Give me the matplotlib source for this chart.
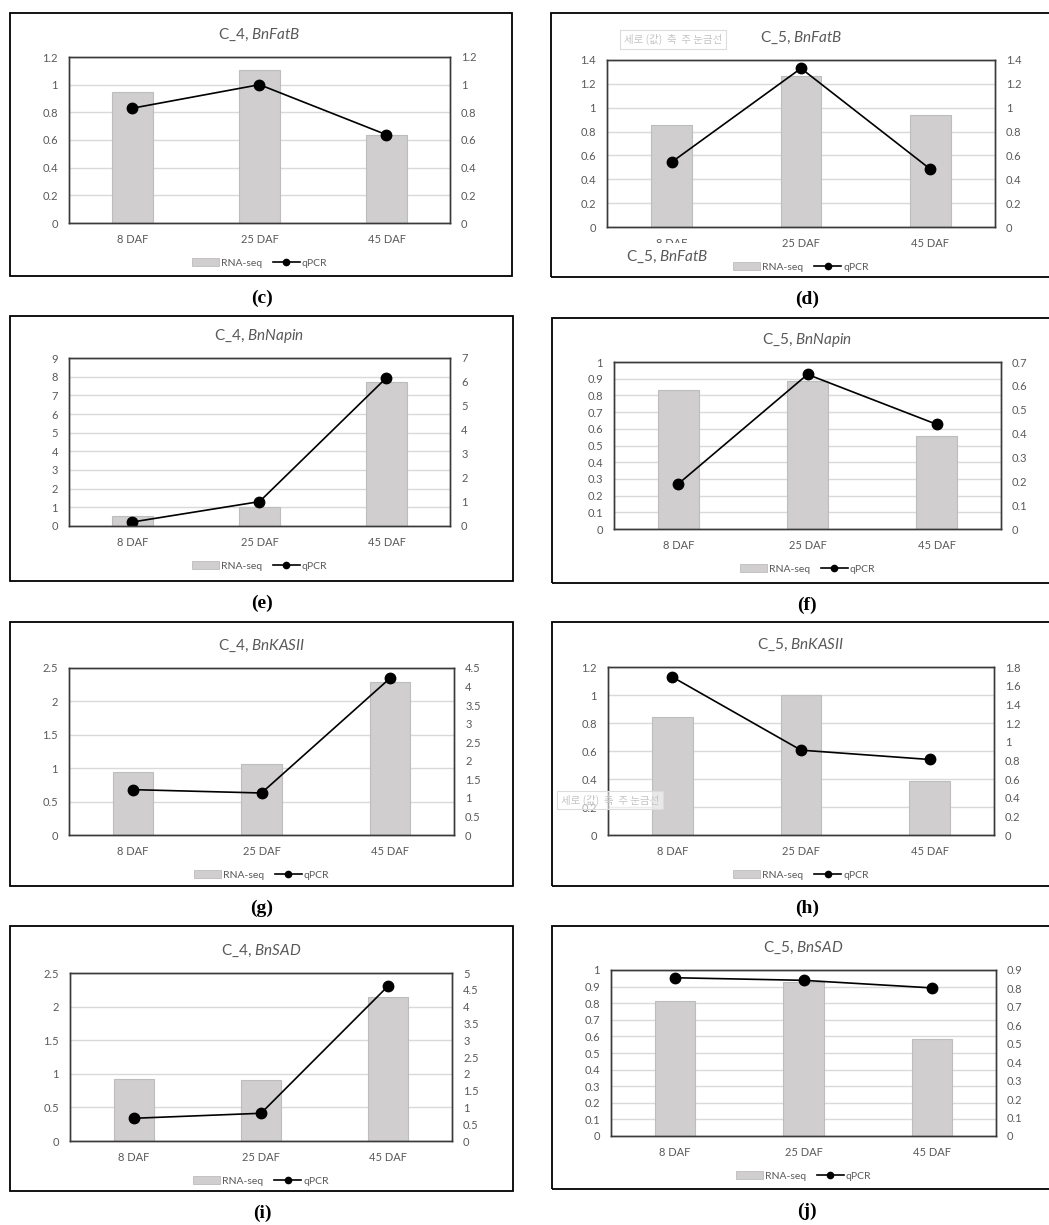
import matplotlib.pyplot as plt
import matplotlib.ticker as mticker
from matplotlib.patches import Rectangle, Patch
from matplotlib.lines import Line2D

plt.rcParams['font.family'] = ['Lato', 'DejaVu Sans']
plt.rcParams['mathtext.fontset'] = 'custom'
plt.rcParams['mathtext.rm'] = 'Lato'
plt.rcParams['mathtext.it'] = 'Lato:italic'

W, H = 1049, 1225

days = ["8 DAF", "25 DAF", "45 DAF"]

# values
rnaseq_c4_fatb = [0.946, 1.104, 0.636]
qpcr_c4_fatb = [0.830, 1.000, 0.638]
rnaseq_c5_fatb = [0.853, 1.266, 0.940]
qpcr_c5_fatb = [0.544, 1.330, 0.485]
rnaseq_c4_napin = [0.555, 1.02, 7.69]
qpcr_c4_napin = [0.167, 1.016, 6.18]
rnaseq_c5_napin = [0.831, 0.886, 0.554]
qpcr_c5_napin = [0.190, 0.648, 0.439]
rnaseq_c4_kasii = [0.943, 1.063, 2.29]
qpcr_c4_kasii = [1.222, 1.132, 4.22]
rnaseq_c5_kasii = [0.845, 1.002, 0.384]
qpcr_c5_kasii = [1.693, 0.909, 0.809]
rnaseq_c4_sad = [0.919, 0.905, 2.137]
qpcr_c4_sad = [0.676, 0.825, 4.62]
rnaseq_c5_sad = [0.812, 0.928, 0.585]
qpcr_c5_sad = [0.858, 0.844, 0.803]

# (clone, gene, rna, qpcr, left max/step, right max/step, box px, plot px, label)
panels = [
    ("C_4", "BnFatB", rnaseq_c4_fatb, qpcr_c4_fatb, (1.2, 0.2), (1.2, 0.2),
     (10, 13, 512, 276), (69, 57, 450, 223), "c"),
    ("C_5", "BnFatB", rnaseq_c5_fatb, qpcr_c5_fatb, (1.4, 0.2), (1.4, 0.2),
     (551, 13, 1052, 277), (607, 60, 995, 227), "d"),
    ("C_4", "BnNapin", rnaseq_c4_napin, qpcr_c4_napin, (9, 1), (7, 1),
     (10, 316, 513, 581), (69, 358, 450, 526), "e"),
    ("C_5", "BnNapin", rnaseq_c5_napin, qpcr_c5_napin, (1, 0.1), (0.7, 0.1),
     (552, 318, 1052, 583), (614, 362, 1001, 529), "f"),
    ("C_4", "BnKASII", rnaseq_c4_kasii, qpcr_c4_kasii, (2.5, 0.5), (4.5, 0.5),
     (10, 622, 513, 886), (69, 668, 454, 835), "g"),
    ("C_5", "BnKASII", rnaseq_c5_kasii, qpcr_c5_kasii, (1.2, 0.2), (1.8, 0.2),
     (552, 622, 1052, 886), (608, 667, 994, 835), "h"),
    ("C_4", "BnSAD", rnaseq_c4_sad, qpcr_c4_sad, (2.5, 0.5), (5, 0.5),
     (10, 926, 513, 1191), (70, 973, 452, 1141), "i"),
    ("C_5", "BnSAD", rnaseq_c5_sad, qpcr_c5_sad, (1, 0.1), (0.9, 0.1),
     (552, 926, 1052, 1189), (611, 970, 996, 1136), "j"),
]

BAR = '#d0cece'
BAR_EDGE = '#bdbdbd'
TXT = '#595959'


def fx(x):
    return x / W


def fy(y):
    return 1 - y / H


fig = plt.figure(figsize=(W / 100, H / 100), dpi=100)

fmt = mticker.FuncFormatter(lambda v, p: f"{round(v, 4):g}")

for clone, gene, rna, qpcr, lft, rgt, box, plot, lab in panels:
    bx0, by0, bx1, by1 = box
    fig.patches.append(Rectangle((fx(bx0), fy(by1)), fx(bx1 - bx0), (by1 - by0) / H,
                                 transform=fig.transFigure, fill=False,
                                 ec='black', lw=1.3, zorder=0))
    px0, py0, px1, py1 = plot
    ax = fig.add_axes([fx(px0), fy(py1), fx(px1 - px0), (py1 - py0) / H])
    x = range(len(days))
    ax.bar(x, rna, width=0.315, color=BAR, edgecolor=BAR_EDGE, lw=0.8, label="RNA-seq")
    ax.set_xlim(-0.5, 2.5)
    ax.set_ylim(0, lft[0])
    ax.set_yticks([i * lft[1] for i in range(int(round(lft[0] / lft[1])) + 1)])
    ax.yaxis.set_major_formatter(fmt)
    ax.set_xticks(list(x))
    ax.set_xticklabels(days)
    ax.grid(axis='y', color='#d9d9d9', lw=1)
    ax.set_axisbelow(True)
    ax.tick_params(length=0, labelsize=8, labelcolor=TXT, pad=8)
    ax.tick_params(axis='x', pad=8)

    ax2 = ax.twinx()
    ax2.plot(x, qpcr, color='black', lw=1.2, marker='o', ms=7.5, label="qPCR")
    ax2.set_ylim(0, rgt[0])
    ax2.set_yticks([i * rgt[1] for i in range(int(round(rgt[0] / rgt[1])) + 1)])
    ax2.yaxis.set_major_formatter(fmt)
    ax2.tick_params(length=0, labelsize=8, labelcolor=TXT, pad=8)
    for a in (ax, ax2):
        for s in a.spines.values():
            s.set_color('#3a3a3a')
            s.set_linewidth(1)

    cx = (px0 + px1) / 2
    fig.text(fx(cx), fy(py0 - 22), clone + ", $" + gene + "$",
             ha='center', va='center', fontsize=11, color=TXT)

    handles = [Patch(facecolor=BAR, edgecolor=BAR_EDGE, lw=0.6),
               Line2D([], [], color='black', lw=1.2, marker='o', ms=4.5)]
    fig.legend(handles, ["RNA-seq", "qPCR"], loc='center', ncol=2,
               bbox_to_anchor=(fx(cx), fy(py1 + 40)), frameon=False,
               fontsize=7.5, labelcolor=TXT, handlelength=2.6, handletextpad=0.2,
               columnspacing=1.0)

    lx = 262 if bx0 < 500 else 807
    fig.text(fx(lx), fy(by1 + 22), f"({lab})", ha='center', va='center',
             fontsize=14, fontweight='bold', family='Liberation Serif')

# stray overlays left in the source figure
fig.patches.append(Rectangle((fx(600), fy(274)), fx(130), 31 / H, transform=fig.transFigure,
                             fc='white', ec='none', zorder=1))
fig.text(fx(626), fy(257), "C_5, $BnFatB$", ha='left', va='center', fontsize=11, color=TXT)

kr = "세로 (값)  축  주 눈금선"
for kx, ky in [(673, 39.5), (610, 800)]:
    fig.text(fx(kx), fy(ky), kr, ha='center', va='center', fontsize=7.5, color='#c4c4c4',
             family=['Noto Sans CJK KR', 'DejaVu Sans'],
             bbox=dict(boxstyle='square,pad=0.35', fc=(1, 1, 1, 0.55), ec='#dcdcdc', lw=0.8))

fig.savefig("out.png", dpi=100)
